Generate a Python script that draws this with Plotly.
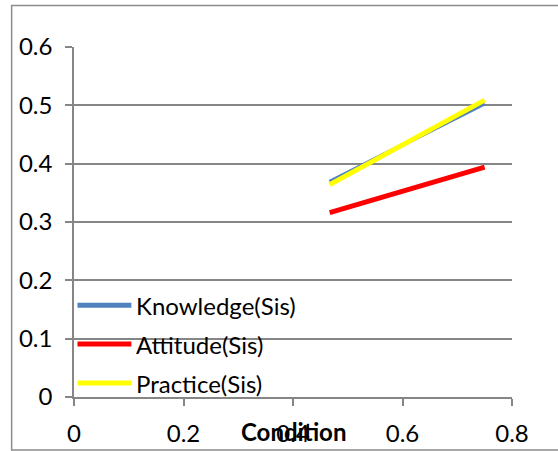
import plotly.graph_objects as go

# Series data
series_names = ["Knowledge(Sis)", "Attitude(Sis)", "Practice(Sis)"]
condition = [0.467, 0.75]
knowledge = [0.369, 0.503]
attitude = [0.316, 0.394]
practice = [0.364, 0.509]
series_colors = ["#4F81BD", "#FF0000", "#FFFF00"]
series_widths = [4, 5, 5]

x_ticks = [0, 0.2, 0.4, 0.6, 0.8]
y_ticks = [0, 0.1, 0.2, 0.3, 0.4, 0.5, 0.6]

W, H = 558, 451
L, R, T, B = 73.5, 45.5, 46.5, 54
pw, ph = W - L - R, H - T - B

FONT = "Lato"
FS = 24
GRID = "#868686"

fig = go.Figure()
for name, ys, col, lw in zip(series_names, [knowledge, attitude, practice], series_colors, series_widths):
    fig.add_trace(go.Scatter(x=condition, y=ys, mode="lines", name=name,
                             line=dict(color=col, width=lw), showlegend=False))

def px_x(p):
    return (p - L) / pw

def px_y(p):
    return (H - B - p) / ph

shapes = [
    # chart border
    dict(type="rect", xref="paper", yref="paper",
         x0=px_x(11), x1=px_x(600), y0=px_y(450), y1=px_y(5),
         line=dict(color="#8C8C8C", width=1.5), fillcolor="rgba(0,0,0,0)", layer="below"),
]
annotations = []

# legend drawn inside the plot area
leg_y = [305, 344, 383]
for name, col, lw, yy in zip(series_names, series_colors, series_widths, leg_y):
    shapes.append(dict(type="line", xref="paper", yref="paper",
                       x0=px_x(77), x1=px_x(131), y0=px_y(yy), y1=px_y(yy),
                       line=dict(color=col, width=5)))
    annotations.append(dict(xref="paper", yref="paper", x=px_x(134), y=px_y(yy),
                            text=name, showarrow=False, xanchor="left", yanchor="middle",
                            font=dict(family=FONT, size=FS, color="#000000")))

# axis title
annotations.append(dict(xref="paper", yref="paper", x=px_x(293), y=px_y(432),
                        text="<b>Condition</b>", showarrow=False,
                        xanchor="center", yanchor="middle",
                        font=dict(family=FONT, size=FS, color="#000000")))

fig.update_layout(
    width=W, height=H,
    margin=dict(l=L, r=R, t=T, b=B),
    paper_bgcolor="white", plot_bgcolor="white",
    font=dict(family=FONT, size=FS, color="#000000"),
    shapes=shapes, annotations=annotations,
    xaxis=dict(range=[0, 0.8], tickvals=x_ticks, ticktext=[f"{v:g}" for v in x_ticks],
               showgrid=False, zeroline=False, showline=True, linecolor=GRID, linewidth=1.5,
               ticks="outside", ticklen=7, tickcolor=GRID, tickwidth=1.5, automargin=False,
               tickfont=dict(family=FONT, size=FS), ticklabelstandoff=7),
    yaxis=dict(range=[0, 0.6], tickvals=y_ticks, ticktext=[f"{v:g}" for v in y_ticks],
               showgrid=True, gridcolor=GRID, gridwidth=1.5, zeroline=False,
               showline=True, linecolor=GRID, linewidth=1.5, automargin=False,
               ticks="outside", ticklen=7, tickcolor=GRID, tickwidth=1.5,
               tickfont=dict(family=FONT, size=FS), ticklabelstandoff=8),
)

fig.write_html("out.html")
